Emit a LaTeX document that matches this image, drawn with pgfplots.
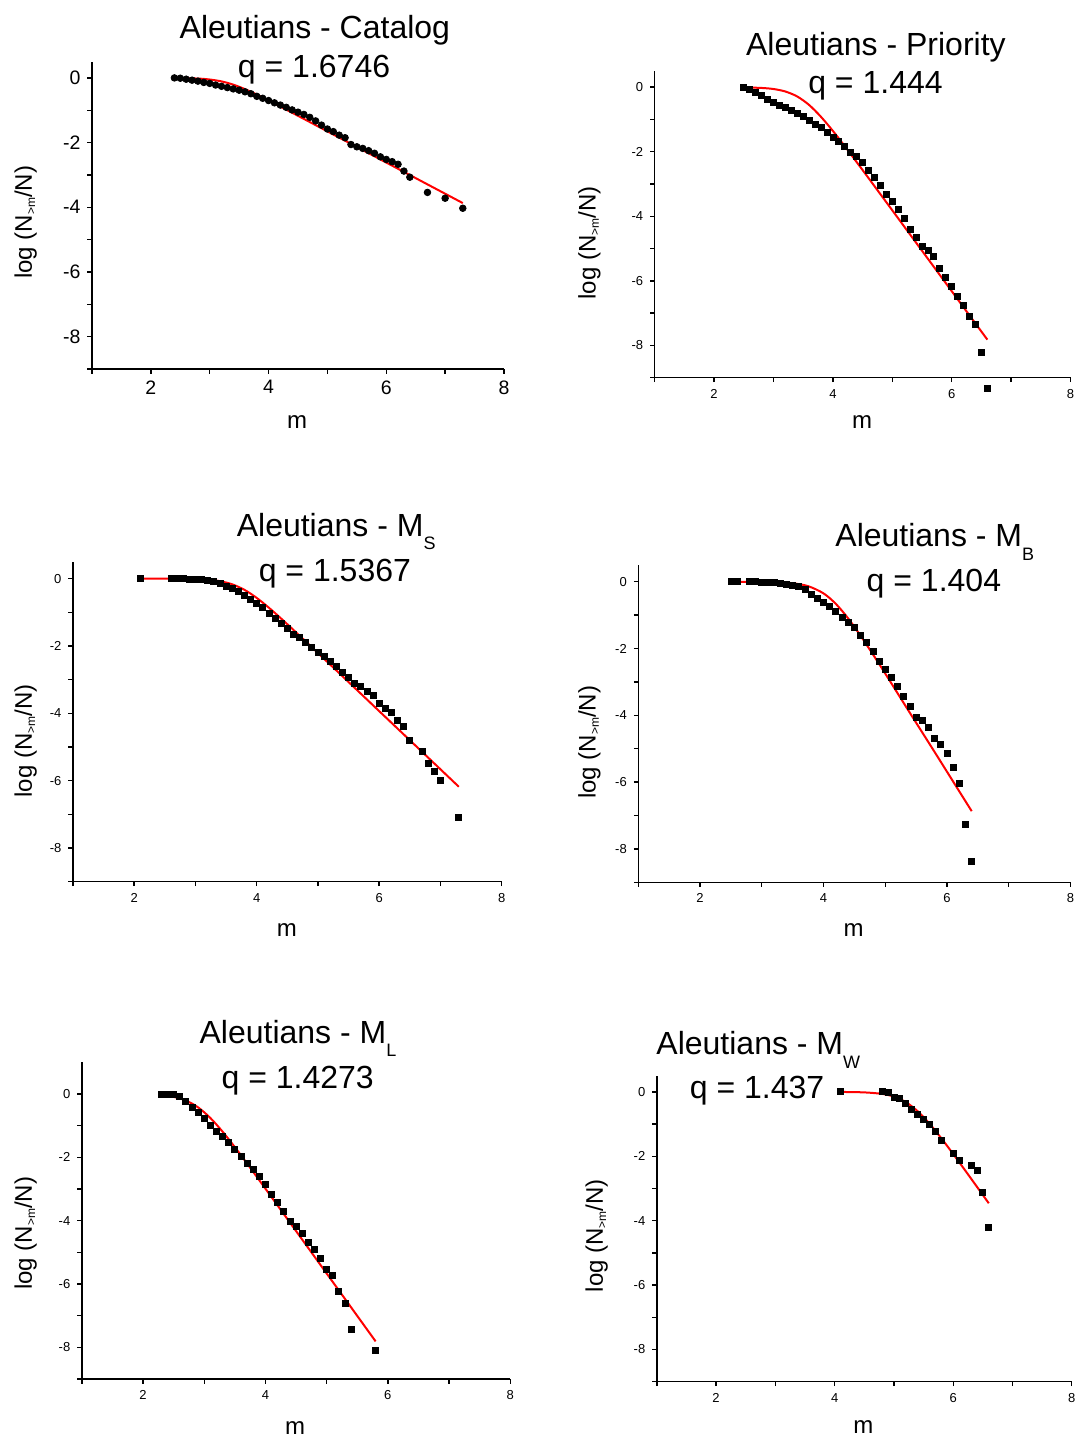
\documentclass[border=0pt]{standalone}
\usepackage{fontspec}
\setmainfont{Liberation Sans}
\usepackage{pgfplots}
\pgfplotsset{compat=1.18}

\newcommand{\tsub}[1]{\raisebox{-6.8pt}{\fontsize{9}{10}\selectfont #1}}
\newcommand{\lsub}[1]{\raisebox{-1.6pt}{\fontsize{6}{7}\selectfont #1}}

\pgfplotsset{
  panel/.style={
    scale only axis,
    anchor=south west,
    xmin=1, xmax=8, ymin=-9, ymax=0.5,
    axis x line*=bottom, axis y line*=left,
    axis line style={line width=0.75pt, -},
    xtick={2,4,6,8}, minor xtick={1,3,5,7},
    ytick={-8,-6,-4,-2,0}, minor ytick={-9,-7,-5,-3,-1},
    tick align=outside,
    major tick length=2.25pt, minor tick length=2.25pt,
    every tick/.style={black, line width=0.7pt},
    clip=false,
    /pgf/number format/assume math mode=true,
    xlabel={m}, ylabel={log (N\lsub{>m}/N)},
    label style={font=\fontsize{12}{14}\selectfont},
    xlabel style={anchor=center},
    ylabel style={anchor=center},
    every axis title/.style={anchor=base, font=\fontsize{16}{19}\selectfont},
    ticklabel style={font=\fontsize{6.5}{8}\selectfont},
  },
  pts/.style={only marks, mark=square*, mark size=1.5pt, mark options={draw=black, fill=black}},
  fit/.style={no marks, red, line width=1pt, smooth},
}
\tikzset{qlab/.style={anchor=base, font=\fontsize{16}{19}\selectfont}}

\begin{document}
\begin{tikzpicture}
\useasboundingbox (0,0) rectangle (537.5pt,-718.5pt);

% ---------------- Catalog ----------------
\begin{axis}[panel, at={(46pt,-184.5pt)}, width=206pt, height=153.65pt,
  ticklabel style={font=\fontsize{9.75}{11}\selectfont},
  title={Aleutians - Catalog}, title style={at={(axis description cs:0.541,1.077)}},
  xlabel style={at={(axis description cs:0.498,-0.171)}},
  ylabel style={at={(axis description cs:-0.161,0.477)}}]
\addplot[only marks, mark=*, mark size=1.65pt, mark options={draw=black, fill=black}] coordinates {
(2.4,0) (2.5,-0.01) (2.6,-0.04) (2.7,-0.07) (2.8,-0.10) (2.9,-0.14) (3.0,-0.17) (3.1,-0.22)
(3.2,-0.26) (3.3,-0.30) (3.4,-0.34) (3.5,-0.38) (3.6,-0.43) (3.7,-0.49) (3.8,-0.57) (3.9,-0.63)
(4.0,-0.70) (4.1,-0.77) (4.2,-0.84) (4.3,-0.91) (4.4,-0.99) (4.5,-1.06) (4.6,-1.13) (4.7,-1.22)
(4.8,-1.33) (4.9,-1.46) (5.0,-1.58) (5.1,-1.66) (5.2,-1.77) (5.3,-1.85) (5.4,-2.06) (5.5,-2.13)
(5.6,-2.18) (5.7,-2.25) (5.8,-2.33) (5.9,-2.44) (6.0,-2.52) (6.1,-2.59) (6.2,-2.67) (6.3,-2.88)
(6.4,-3.07) (6.7,-3.54) (7.0,-3.72) (7.3,-4.03)};
\addplot[fit] coordinates {
(2.4,-0.004) (2.8,-0.021) (3.0,-0.05) (3.2,-0.108) (3.4,-0.208) (3.6,-0.348) (3.8,-0.515)
(4.0,-0.697) (4.5,-1.172) (5.0,-1.653) (5.5,-2.135) (6.0,-2.617) (6.5,-3.099) (7.0,-3.581) (7.3,-3.87)};
\node[qlab] at (axis description cs:0.539,0.950) {q = 1.6746};
\end{axis}

% ---------------- Priority ----------------
\begin{axis}[panel, at={(327.35pt,-188.85pt)}, width=207.9pt, height=153.35pt,
  title={Aleutians - Priority}, title style={at={(axis description cs:0.532,1.052)}},
  xlabel style={at={(axis description cs:0.499,-0.143)}},
  ylabel style={at={(axis description cs:-0.157,0.439)}}]
\addplot[pts] coordinates {
(2.5,0) (2.6,-0.08) (2.7,-0.17) (2.8,-0.27) (2.9,-0.37) (3.0,-0.46) (3.1,-0.55) (3.2,-0.63)
(3.3,-0.72) (3.4,-0.82) (3.5,-0.91) (3.6,-1.04) (3.7,-1.14) (3.8,-1.24) (3.9,-1.40) (4.0,-1.55)
(4.1,-1.69) (4.2,-1.84) (4.3,-2.01) (4.4,-2.15) (4.5,-2.34) (4.6,-2.57) (4.7,-2.80) (4.8,-3.05)
(4.9,-3.31) (5.0,-3.55) (5.1,-3.79) (5.2,-4.08) (5.3,-4.41) (5.4,-4.64) (5.5,-4.92) (5.6,-5.05)
(5.7,-5.24) (5.8,-5.61) (5.9,-5.90) (6.0,-6.17) (6.1,-6.48) (6.2,-6.75) (6.3,-7.10) (6.4,-7.35)
(6.5,-8.21) (6.6,-9.32)};
\addplot[fit] coordinates {
(2.5,-0.006) (2.8,-0.024) (3.0,-0.057) (3.2,-0.134) (3.4,-0.289) (3.6,-0.552) (3.8,-0.92)
(4.0,-1.356) (4.2,-1.829) (4.4,-2.32) (4.6,-2.816) (5.0,-3.815) (5.5,-5.066) (6.0,-6.318) (6.3,-7.07) (6.6,-7.82)};
\node[qlab] at (axis description cs:0.531,0.928) {q = 1.444};
\end{axis}

% ---------------- M_S ----------------
\begin{axis}[panel, at={(36.45pt,-440.85pt)}, width=214.4pt, height=160pt,
  title={Aleutians - M\tsub{S}}, title style={at={(axis description cs:0.614,1.080)}},
  xlabel style={at={(axis description cs:0.499,-0.151)}},
  ylabel style={at={(axis description cs:-0.110,0.440)}}]
\addplot[pts] coordinates {
(2.1,0) (2.6,0) (2.7,0) (2.8,-0.005) (2.9,-0.01) (3.0,-0.01) (3.1,-0.02) (3.2,-0.04)
(3.3,-0.08) (3.4,-0.15) (3.5,-0.22) (3.6,-0.30) (3.7,-0.37) (3.8,-0.49) (3.9,-0.62) (4.0,-0.74)
(4.1,-0.87) (4.2,-1.02) (4.3,-1.19) (4.4,-1.32) (4.5,-1.48) (4.6,-1.66) (4.7,-1.76) (4.8,-1.90)
(4.9,-2.03) (5.0,-2.20) (5.1,-2.32) (5.2,-2.47) (5.3,-2.62) (5.4,-2.79) (5.5,-2.92) (5.6,-3.12)
(5.7,-3.21) (5.8,-3.34) (5.9,-3.48) (6.0,-3.71) (6.1,-3.86) (6.2,-3.96) (6.3,-4.20) (6.4,-4.40)
(6.5,-4.80) (6.7,-5.14) (6.8,-5.49) (6.9,-5.71) (7.0,-6.00) (7.3,-7.10)};
\addplot[fit] coordinates {
(2.1,0) (2.6,-0.002) (3.0,-0.013) (3.2,-0.033) (3.4,-0.077) (3.6,-0.17) (3.8,-0.334)
(4.0,-0.573) (4.2,-0.866) (4.4,-1.188) (4.6,-1.524) (5.0,-2.209) (5.5,-3.071) (6.0,-3.935)
(6.5,-4.798) (7.0,-5.662) (7.3,-6.18)};
\node[qlab] at (axis description cs:0.611,0.9375) {q = 1.5367};
\end{axis}

% ---------------- M_B ----------------
\begin{axis}[panel, at={(319.15pt,-441.15pt)}, width=216.1pt, height=158.65pt,
  title={Aleutians - M\tsub{B}}, title style={at={(axis description cs:0.686,1.058)}},
  xlabel style={at={(axis description cs:0.498,-0.150)}},
  ylabel style={at={(axis description cs:-0.113,0.441)}}]
\addplot[pts] coordinates {
(2.5,0) (2.6,0) (2.8,0) (2.9,0) (3.0,-0.01) (3.1,-0.02) (3.2,-0.03) (3.3,-0.05) (3.4,-0.07)
(3.5,-0.10) (3.6,-0.15) (3.7,-0.23) (3.8,-0.37) (3.9,-0.50) (4.0,-0.62) (4.1,-0.75) (4.2,-0.90)
(4.3,-1.07) (4.4,-1.23) (4.5,-1.38) (4.6,-1.60) (4.7,-1.83) (4.8,-2.10) (4.9,-2.38) (5.0,-2.62)
(5.1,-2.87) (5.2,-3.13) (5.3,-3.43) (5.4,-3.73) (5.5,-4.05) (5.6,-4.15) (5.7,-4.37) (5.8,-4.70)
(5.9,-4.87) (6.0,-5.13) (6.1,-5.57) (6.2,-6.04) (6.3,-7.26) (6.4,-8.36)};
\addplot[fit] coordinates {
(2.5,0) (3.0,-0.005) (3.25,-0.015) (3.5,-0.045) (3.75,-0.132) (4.0,-0.349) (4.2,-0.664)
(4.4,-1.10) (4.6,-1.617) (4.8,-2.175) (5.0,-2.75) (5.4,-3.93) (5.8,-5.10) (6.2,-6.28) (6.4,-6.87)};
\node[qlab] at (axis description cs:0.684,0.916) {q = 1.404};
\end{axis}

% ---------------- M_L ----------------
\begin{axis}[panel, at={(40.9pt,-689.5pt)}, width=214.25pt, height=158.35pt, ymax=1,
  title={Aleutians - M\tsub{L}}, title style={at={(axis description cs:0.5045,1.060)}},
  xlabel style={at={(axis description cs:0.498,-0.155)}},
  ylabel style={at={(axis description cs:-0.131,0.460)}}]
\addplot[pts] coordinates {
(2.3,0) (2.4,0) (2.5,0) (2.6,-0.07) (2.7,-0.22) (2.8,-0.41) (2.9,-0.57) (3.0,-0.76) (3.1,-0.99)
(3.2,-1.17) (3.3,-1.35) (3.4,-1.54) (3.5,-1.75) (3.6,-1.98) (3.7,-2.19) (3.8,-2.38) (3.9,-2.61)
(4.0,-2.85) (4.1,-3.16) (4.2,-3.43) (4.3,-3.72) (4.4,-4.01) (4.5,-4.19) (4.6,-4.40) (4.7,-4.68)
(4.8,-4.92) (4.9,-5.19) (5.0,-5.53) (5.1,-5.73) (5.2,-6.24) (5.3,-6.60) (5.4,-7.42) (5.8,-8.09)};
\addplot[fit] coordinates {
(2.3,-0.038) (2.5,-0.091) (2.7,-0.206) (2.9,-0.423) (3.1,-0.758) (3.3,-1.19) (3.5,-1.679)
(3.7,-2.196) (4.0,-2.99) (4.5,-4.327) (5.0,-5.667) (5.5,-7.007) (5.8,-7.811)};
\node[qlab] at (axis description cs:0.504,0.918) {q = 1.4273};
\end{axis}

% ---------------- M_W ----------------
\begin{axis}[panel, at={(328.4pt,-690.85pt)}, width=207.5pt, height=153pt,
  title={Aleutians - M\tsub{W}}, title style={at={(axis description cs:0.2446,1.068)}},
  xlabel style={at={(axis description cs:0.498,-0.147)}},
  ylabel style={at={(axis description cs:-0.145,0.477)}}]
\addplot[pts] coordinates {
(4.1,0) (4.8,0) (4.9,-0.03) (5.0,-0.18) (5.1,-0.21) (5.2,-0.36) (5.3,-0.54) (5.4,-0.69)
(5.5,-0.85) (5.6,-1.00) (5.7,-1.23) (5.8,-1.50) (6.0,-1.92) (6.1,-2.14) (6.3,-2.27) (6.4,-2.43)
(6.5,-3.12) (6.6,-4.22)};
\addplot[fit] coordinates {
(4.1,-0.003) (4.5,-0.017) (4.8,-0.064) (5.0,-0.149) (5.2,-0.319) (5.4,-0.602) (5.6,-0.988)
(5.8,-1.443) (6.0,-1.932) (6.2,-2.436) (6.4,-2.947) (6.6,-3.46)};
\node[qlab] at (axis description cs:0.2415,0.926) {q = 1.437};
\end{axis}
\end{tikzpicture}
\end{document}
